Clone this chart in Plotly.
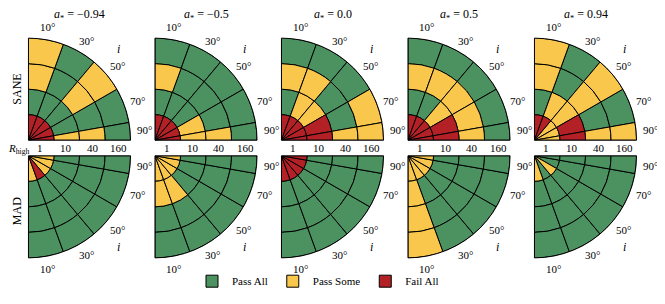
import math
import plotly.graph_objects as go

# ---------------- data ----------------
inclinations = ['10°', '30°', '50°', '70°', '90°']
inc_edges = [0, 20, 40, 60, 80, 90]          # inclination bin edges (deg)
r_high = ['1', '10', '40', '160']
spins = ['−0.94', '−0.5', '0.0', '0.5', '0.94']
status_names = {'G': 'Pass All', 'Y': 'Pass Some', 'R': 'Fail All'}

# rows: inclination 10..90 ; characters: R_high 1,10,40,160
sane_m094 = ['RGYY', 'RGGG', 'RGYY', 'RGGG', 'RYYG']
sane_m05 = ['RGYG', 'RGGG', 'RGGG', 'RYGG', 'RYYG']
sane_0 = ['RGYG', 'RYYG', 'RYGG', 'RRGY', 'RRYY']
sane_p05 = ['RGYG', 'RGYG', 'RYYG', 'RRYG', 'RRYG']
sane_p094 = ['RGYY', 'RYGG', 'YYYY', 'YRGG', 'YRYY']

mad_m094 = ['YGGG', 'RGGG', 'YGGG', 'YGGG', 'YGGG']
mad_m05 = ['YYGG', 'YYGG', 'YGGG', 'YGGG', 'YGGG']
mad_0 = ['RGGG', 'RGGG', 'RGGG', 'RGGG', 'RGGG']
mad_p05 = ['YYYY', 'YGGG', 'YGGG', 'YGGG', 'YGGG']
mad_p094 = ['YGGG', 'GGGG', 'YGGG', 'GGGG', 'GGGG']

sane = [sane_m094, sane_m05, sane_0, sane_p05, sane_p094]
mad = [mad_m094, mad_m05, mad_0, mad_p05, mad_p094]

colors = {'G': '#4b9260', 'Y': '#f9c74c', 'R': '#b32126'}

# ---------------- layout ----------------
OFF = 8                      # page body margin
W, H = 665 - 2 * OFF, 304 - 2 * OFF
R = 105
cx0, dx = 27, 126.5
top_cy, bot_cy = 144, 160
FONT = 'Liberation Serif, Times New Roman, serif'


def px(x):
    return (x - OFF) / W


def py(y):
    return 1 - (y - OFF) / H


fig = go.Figure()
layout = dict(width=W, height=H, margin=dict(l=0, r=0, t=0, b=0, pad=0),
              paper_bgcolor='white', plot_bgcolor='white',
              font=dict(family=FONT, size=11, color='black'),
              showlegend=True)

annotations = []


def ann(x, y, text, size=11, **kw):
    d = dict(x=px(x), y=py(y), xref='paper', yref='paper', text=text, showarrow=False,
             xanchor='center', yanchor='middle', font=dict(family=FONT, size=size))
    d.update(kw)
    annotations.append(d)


shown = set()
for row, grids in enumerate([sane, mad]):
    for j, grid in enumerate(grids):
        k = row * 5 + j + 1
        sub = 'polar' if k == 1 else f'polar{k}'
        cx = cx0 + j * dx
        cy = top_cy if row == 0 else bot_cy
        sgn = -1 if row == 0 else 1
        if row == 0:
            yd = [py(cy), py(cy - R)]
            sector = [0, 90]
        else:
            yd = [py(cy + R), py(cy)]
            sector = [270, 360]
        layout[sub] = dict(
            domain=dict(x=[px(cx), px(cx + R)], y=yd),
            sector=sector, bgcolor='rgba(0,0,0,0)',
            radialaxis=dict(range=[0, 4], showgrid=False, showline=False, ticks='',
                            showticklabels=False),
            angularaxis=dict(showgrid=False, showline=True, linecolor='black', linewidth=1,
                             ticks='', showticklabels=False, direction='counterclockwise',
                             rotation=0),
        )
        for code in ['G', 'Y', 'R']:
            th, wd, rr, bs = [], [], [], []
            for si, rowstr in enumerate(grid):
                lo, hi = inc_edges[si], inc_edges[si + 1]
                mid = (lo + hi) / 2
                theta = 90 - mid if row == 0 else 270 + mid
                for ri, c in enumerate(rowstr):
                    if c == code:
                        th.append(theta); wd.append(hi - lo); rr.append(1); bs.append(ri)
            if not th:
                continue
            fig.add_trace(go.Barpolar(
                theta=th, width=wd, r=rr, base=bs, subplot=sub,
                marker=dict(color=colors[code], line=dict(color='black', width=1)),
                name=status_names[code], legendgroup=code,
                showlegend=(code not in shown), hoverinfo='skip'))
            shown.add(code)
        # inclination labels
        for si in range(5):
            mid = math.radians((inc_edges[si] + inc_edges[si + 1]) / 2)
            ann(cx + 118 * math.sin(mid), cy + sgn * 118 * math.cos(mid), inclinations[si])
        a = math.radians(44)
        ann(cx + 131 * math.sin(a), cy + sgn * 131 * math.cos(a), '<i>i</i>', size=12)
        if row == 0:
            ann(cx + R / 2, 15, f'<i>a</i><sub>*</sub> = {spins[j]}', size=12)
            for ri, lab in enumerate(r_high):
                ann(cx + (ri + 0.5) / 4 * R, 152, lab)

ann(17, 92, 'SANE', size=12, textangle=-90)
ann(17, 217, 'MAD', size=12, textangle=-90)
ann(19, 153, '<i>R</i><sub>high</sub>', size=11)

layout['annotations'] = annotations
layout['legend'] = dict(orientation='h', x=px(318), xanchor='center', y=py(289),
                        yanchor='middle', font=dict(family=FONT, size=11),
                        bgcolor='rgba(0,0,0,0)')
fig.update_layout(**layout)
fig.write_html('out.html')
